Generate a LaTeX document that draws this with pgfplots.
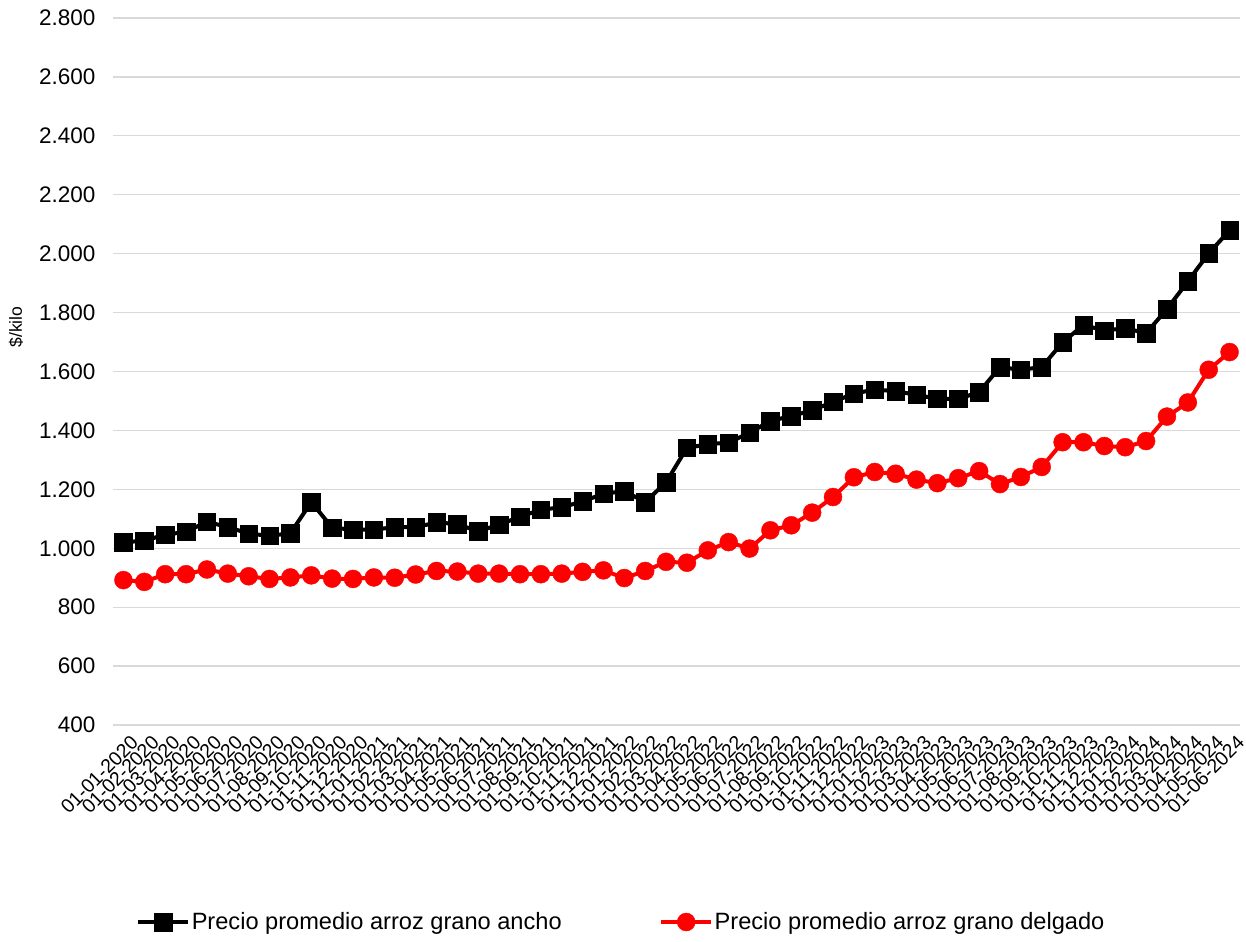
\documentclass[border=0pt]{standalone}
\usepackage{fontspec}
\setmainfont{Liberation Sans}
\usepackage{pgfplots}
\usepackage{pgfplotstable}
\pgfplotsset{compat=1.18}

\definecolor{gridgray}{HTML}{D9D9D9}
\definecolor{rojo}{HTML}{FF0000}

% Precio promedio mensual ($/kilo)
\pgfplotstableread{
idx fecha      ancho delgado
0  01-01-2020 1020 892
1  01-02-2020 1026 886
2  01-03-2020 1046 912
3  01-04-2020 1056 912
4  01-05-2020 1090 928
5  01-06-2020 1072 914
6  01-07-2020 1050 905
7  01-08-2020 1042 896
8  01-09-2020 1051 901
9  01-10-2020 1157 908
10 01-11-2020 1070 897
11 01-12-2020 1063 896
12 01-01-2021 1063 901
13 01-02-2021 1072 900
14 01-03-2021 1071 911
15 01-04-2021 1088 923
16 01-05-2021 1082 921
17 01-06-2021 1058 914
18 01-07-2021 1080 914
19 01-08-2021 1107 912
20 01-09-2021 1131 912
21 01-10-2021 1139 914
22 01-11-2021 1159 920
23 01-12-2021 1185 925
24 01-01-2022 1194 899
25 01-02-2022 1157 923
26 01-03-2022 1224 954
27 01-04-2022 1341 951
28 01-05-2022 1353 993
29 01-06-2022 1359 1021
30 01-07-2022 1392 999
31 01-08-2022 1432 1061
32 01-09-2022 1449 1078
33 01-10-2022 1468 1121
34 01-11-2022 1497 1174
35 01-12-2022 1525 1241
36 01-01-2023 1539 1259
37 01-02-2023 1533 1253
38 01-03-2023 1521 1233
39 01-04-2023 1507 1221
40 01-05-2023 1507 1238
41 01-06-2023 1530 1262
42 01-07-2023 1615 1218
43 01-08-2023 1606 1242
44 01-09-2023 1615 1276
45 01-10-2023 1699 1360
46 01-11-2023 1758 1360
47 01-12-2023 1739 1347
48 01-01-2024 1747 1343
49 01-02-2024 1730 1364
50 01-03-2024 1812 1447
51 01-04-2024 1906 1495
52 01-05-2024 2001 1606
53 01-06-2024 2079 1666
}\precios

\begin{document}
\begin{tikzpicture}
\begin{axis}[
  scale only axis,
  width=1127bp, height=707bp,
  xmin=-0.5, xmax=53.5,
  ymin=400, ymax=2800,
  ytick={400,600,...,2800},
  xtick=data,
  xticklabels from table={\precios}{fecha},
  axis line style={draw=none},
  major tick length=0pt,
  ymajorgrids,
  grid style={gridgray, line width=1.3bp},
  /pgf/number format/.cd, 1000 sep={.}, assume math mode=true,
  /pgfplots/.cd,
  yticklabel style={font=\fontsize{22.5bp}{26bp}\selectfont, xshift=-14bp},
  xticklabel style={font=\fontsize{19.5bp}{23bp}\selectfont, rotate=45, anchor=north east, inner sep=1bp, yshift=-10bp, xshift=-1bp},
  ylabel={\$/kilo},
  ylabel style={font=\fontsize{17.5bp}{20bp}\selectfont, at={(axis description cs:-0.0861,0.563)}, anchor=center},
  legend columns=2,
  legend style={
    at={(axis description cs:0.4508,-0.2786)}, anchor=center,
    draw=none, fill=none,
    font=\fontsize{23.6bp}{28bp}\selectfont,
    nodes={inner sep=1.5bp},
    /tikz/every even column/.append style={column sep=96bp},
  },
  legend cell align=left,
  legend image code/.code={
    \draw[mark repeat=2, mark phase=2] plot coordinates {(0bp,0bp) (25bp,0bp) (50bp,0bp)};
  },
]
\addplot[black, line width=4bp, mark=square*, mark size=8.75bp, mark options={line width=0.4bp}]
  table[x=idx, y=ancho] {\precios};
\addlegendentry{Precio promedio arroz grano ancho}
\addplot[rojo, line width=4bp, mark=*, mark size=9bp, mark options={line width=0.4bp}]
  table[x=idx, y=delgado] {\precios};
\addlegendentry{Precio promedio arroz grano delgado}
\end{axis}
\pgfresetboundingbox
\path[use as bounding box] ([shift={(-113bp,-216bp)}]current axis.south west) rectangle ([shift={(6bp,18bp)}]current axis.north east);
\end{tikzpicture}
\end{document}
